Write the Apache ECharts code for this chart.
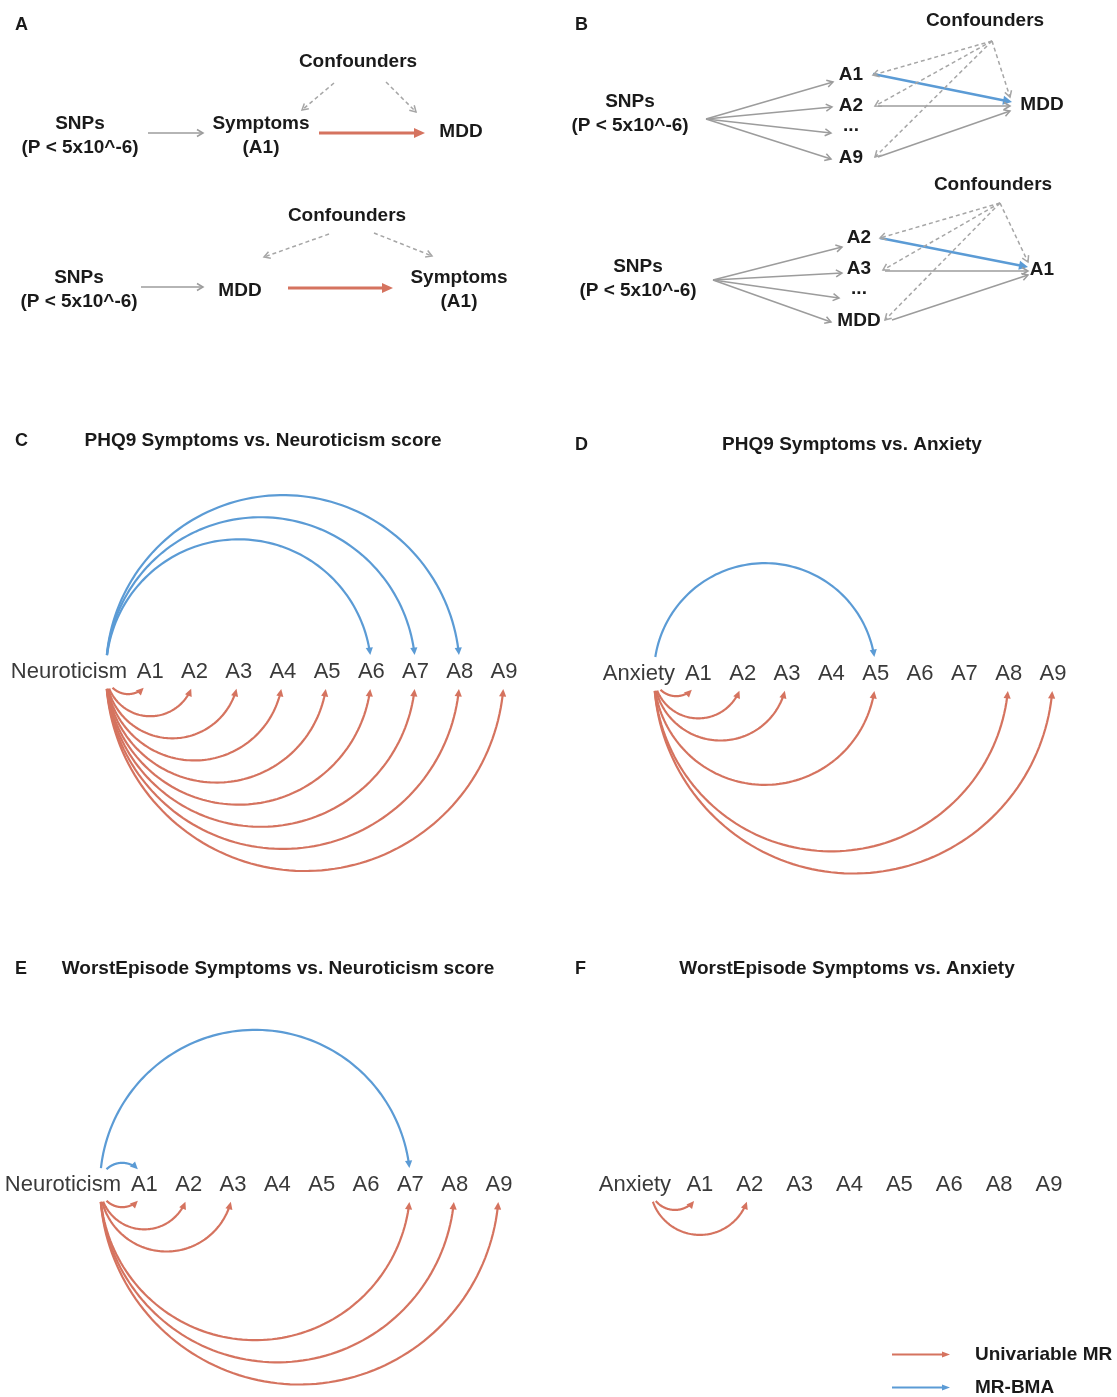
<!DOCTYPE html>
<html><head><meta charset="utf-8">
<script src="https://cdn.jsdelivr.net/npm/echarts@6/dist/echarts.min.js"></script>
<style>html,body{margin:0;padding:0;background:#fff}#chart{width:1117px;height:1397px}</style>
</head><body><div id="chart"></div>
<script>
// ======================= DATA =======================
// Panel C: PHQ9 Symptoms vs. Neuroticism score
const nodesC = ['Neuroticism','A1','A2','A3','A4','A5','A6','A7','A8','A9'];
const univariableC = ['A1','A2','A3','A4','A5','A6','A7','A8','A9'];
const mrbmaC = ['A6','A7','A8'];
// Panel D: PHQ9 Symptoms vs. Anxiety
const nodesD = ['Anxiety','A1','A2','A3','A4','A5','A6','A7','A8','A9'];
const univariableD = ['A1','A2','A3','A5','A8','A9'];
const mrbmaD = ['A5'];
// Panel E: WorstEpisode Symptoms vs. Neuroticism score
const nodesE = ['Neuroticism','A1','A2','A3','A4','A5','A6','A7','A8','A9'];
const univariableE = ['A1','A2','A3','A7','A8','A9'];
const mrbmaE = ['A1','A7'];
// Panel F: WorstEpisode Symptoms vs. Anxiety
const nodesF = ['Anxiety','A1','A2','A3','A4','A5','A6','A8','A9'];
const univariableF = ['A1','A2'];
const mrbmaF = [];

const panelLetters = ['A','B','C','D','E','F'];
const panelTitles = ['PHQ9 Symptoms vs. Neuroticism score','PHQ9 Symptoms vs. Anxiety',
  'WorstEpisode Symptoms vs. Neuroticism score','WorstEpisode Symptoms vs. Anxiety'];
const legendNames = ['Univariable MR','MR-BMA'];

// DAG panels (A, B): node labels and directed relations [from, to, kind]
const dagA1Nodes = ['SNPs\n(P < 5x10^-6)','Symptoms\n(A1)','MDD','Confounders'];
const dagA1Edges = [[0,1,'instrument'],[1,2,'univariable'],[3,1,'confounding'],[3,2,'confounding']];
const dagA2Nodes = ['SNPs\n(P < 5x10^-6)','MDD','Symptoms\n(A1)','Confounders'];
const dagA2Edges = [[0,1,'instrument'],[1,2,'univariable'],[3,1,'confounding'],[3,2,'confounding']];
const dagB1Nodes = ['SNPs\n(P < 5x10^-6)','A1','A2','...','A9','MDD','Confounders'];
const dagB1Edges = [[0,1,'instrument'],[0,2,'instrument'],[0,3,'instrument'],[0,4,'instrument'],
  [1,5,'mrbma'],[2,5,'instrument'],[4,5,'instrument'],
  [6,1,'confounding'],[6,2,'confounding'],[6,4,'confounding'],[6,5,'confounding']];
const dagB2Nodes = ['SNPs\n(P < 5x10^-6)','A2','A3','...','MDD','A1','Confounders'];
const dagB2Edges = [[0,1,'instrument'],[0,2,'instrument'],[0,3,'instrument'],[0,4,'instrument'],
  [1,5,'mrbma'],[2,5,'instrument'],[4,5,'instrument'],
  [6,1,'confounding'],[6,2,'confounding'],[6,4,'confounding'],[6,5,'confounding']];

// ======================= LAYOUT / STYLE =======================
const FONT = "'Liberation Sans', Arial, Helvetica, sans-serif";
const RED = '#D5735F', BLUE = '#5B9BD5', GREY = '#9C9C9C', DGREY = '#A6A6A6';
const TEXT = '#1A1A1A', LABEL = '#3A3A3A';

// DAG layout in diagram-grid units (node anchor positions, edge end points)
const dagLayout = {
  A1: { nodes: [[80,136],[261,136],[461,132],[358,62]],
        edges: [[148,133,203,133],[319,133,425,133],[334,83,302,110],[386,82,416,112]] },
  A2: { nodes: [[79,290],[240,291],[459,290],[347,216]],
        edges: [[141,287,203,287],[288,288,393,288],[329,234,264,257],[374,233,432,256]] },
  B1: { nodes: [[630,114],[851,75],[851,106],[851,126],[851,158],[1042,105],[985,21]],
        edges: [[706,119,833,82],[706,119,832,107],[706,119,831,133],[706,119,831,159],
                [873,74,1012,102],[878,106,1010,106],[878,157,1010,111],
                [992,41,873,75],[992,41,875,106],[992,41,875,157],[992,41,1010,97]] },
  B2: { nodes: [[638,279],[859,238],[859,269],[859,289],[859,321],[1042,270],[993,185]],
        edges: [[713,280,842,247],[713,280,842,273],[713,280,839,298],[713,280,831,322],
                [880,238,1028,267],[885,271,1028,271],[892,320,1028,275],
                [1000,203,880,238],[1000,203,883,270],[1000,203,885,320],[1000,203,1028,262]] }
};
const dags = [
  {nodes: dagA1Nodes, edges: dagA1Edges, lay: dagLayout.A1},
  {nodes: dagA2Nodes, edges: dagA2Edges, lay: dagLayout.A2},
  {nodes: dagB1Nodes, edges: dagB1Edges, lay: dagLayout.B1},
  {nodes: dagB2Nodes, edges: dagB2Edges, lay: dagLayout.B2}
];
const edgeStyle = {
  instrument:  {stroke: GREY,  width: 1.5, dash: null,  head: 'open',   L: 6,  W: 3.5},
  confounding: {stroke: DGREY, width: 1.5, dash: [4,3], head: 'open',   L: 6,  W: 3.5},
  univariable: {stroke: RED,   width: 3,   dash: null,  head: 'filled', L: 11, W: 5},
  mrbma:       {stroke: BLUE,  width: 2.5, dash: null,  head: 'filled', L: 9,  W: 4.5}
};

const arcPanels = [
  {nodes: nodesC, uni: univariableC, bma: mrbmaC, left: 106, width: 398, yc: 672},
  {nodes: nodesD, uni: univariableD, bma: mrbmaD, left: 654, width: 399, yc: 674},
  {nodes: nodesE, uni: univariableE, bma: mrbmaE, left: 100, width: 399, yc: 1185},
  {nodes: nodesF, uni: univariableF, bma: mrbmaF, left: 650, width: 399, yc: 1185}
];

// ======================= RENDERERS =======================
function makeArcRenderer(dir, color) {
  return function (params, api) {
    const s = api.coord([0, 0]);
    const t = api.coord([api.value(0), 0]);
    const R = (t[0] - s[0]) / 2;
    if (!(R > 0)) return;
    const cx = (s[0] + t[0]) / 2, cy = s[1];
    const cap = 17, L = 7.5, W = 3.6;
    const ps = 2 * Math.asin(Math.min(1, cap / (2 * R)));
    const pe = Math.PI - ps;
    const pl = pe - Math.min(L * 0.75 / R, (pe - ps) * 0.4);
    const pts = [];
    const N = 90;
    for (let k = 0; k <= N; k++) {
      const ph = ps + (pl - ps) * k / N;
      pts.push([cx - R * Math.cos(ph), cy + dir * R * Math.sin(ph)]);
    }
    const tip = [cx - R * Math.cos(pe), cy + dir * R * Math.sin(pe)];
    let tx = Math.sin(pe), ty = dir * Math.cos(pe);
    const n = Math.hypot(tx, ty); tx /= n; ty /= n;
    const bx = tip[0] - tx * L, by = tip[1] - ty * L;
    const head = [tip, [bx - ty * W, by + tx * W], [bx + ty * W, by - tx * W]];
    return {type: 'group', children: [
      {type: 'polyline', shape: {points: pts}, style: {stroke: color, lineWidth: 2.2, fill: null}},
      {type: 'polygon', shape: {points: head}, style: {fill: color, stroke: null}}
    ]};
  };
}
function makeLabelRenderer(nodes) {
  return function (params, api) {
    const p = api.coord([api.value(0), 0]);
    const isSrc = params.dataIndex === 0;
    return {type: 'text', x: isSrc ? p[0] + 21 : p[0], y: p[1],
      style: {text: nodes[params.dataIndex], font: '22px ' + FONT, fill: LABEL,
              align: isSrc ? 'right' : 'center', verticalAlign: 'middle'}};
  };
}

// flatten DAG edges and labels
const dagEdgeList = [], dagLabelList = [];
dags.forEach(d => {
  d.edges.forEach((e, i) => dagEdgeList.push({kind: e[2], seg: d.lay.edges[i]}));
  d.nodes.forEach((nm, i) => dagLabelList.push({text: nm, pos: d.lay.nodes[i]}));
});
function renderDagEdge(params, api) {
  const e = dagEdgeList[params.dataIndex];
  const st = edgeStyle[e.kind];
  const p1 = api.coord([e.seg[0], e.seg[1]]);
  const p2 = api.coord([e.seg[2], e.seg[3]]);
  let dx = p2[0] - p1[0], dy = p2[1] - p1[1];
  const len = Math.hypot(dx, dy); dx /= len; dy /= len;
  const bx = p2[0] - dx * st.L, by = p2[1] - dy * st.L;
  const wing1 = [bx - dy * st.W, by + dx * st.W], wing2 = [bx + dy * st.W, by - dx * st.W];
  const lineEnd = st.head === 'filled' ? [p2[0] - dx * st.L * 0.6, p2[1] - dy * st.L * 0.6] : p2;
  const children = [{type: 'line', shape: {x1: p1[0], y1: p1[1], x2: lineEnd[0], y2: lineEnd[1]},
    style: {stroke: st.stroke, lineWidth: st.width, lineDash: st.dash}}];
  if (st.head === 'filled') {
    children.push({type: 'polygon', shape: {points: [p2, wing1, wing2]}, style: {fill: st.stroke}});
  } else {
    children.push({type: 'polyline', shape: {points: [wing1, p2, wing2]},
      style: {stroke: st.stroke, lineWidth: st.width, fill: null}});
  }
  return {type: 'group', children};
}
function renderDagLabel(params, api) {
  const l = dagLabelList[params.dataIndex];
  const p = api.coord(l.pos);
  return {type: 'text', x: p[0], y: p[1],
    style: {text: l.text, font: 'bold 19px ' + FONT, fill: TEXT, align: 'center',
            verticalAlign: 'middle', lineHeight: 24}};
}

// ======================= OPTION =======================
const grids = [{left: 0, top: 0, width: 1117, height: 360}];
const xAxes = [{type: 'value', min: 0, max: 1117, show: false, gridIndex: 0}];
const yAxes = [{type: 'value', min: 0, max: 360, inverse: true, show: false, gridIndex: 0}];
const series = [
  {type: 'custom', name: 'dag-edges', xAxisIndex: 0, yAxisIndex: 0, renderItem: renderDagEdge,
   data: dagEdgeList.map((e, i) => [i]), silent: true},
  {type: 'custom', name: 'dag-nodes', xAxisIndex: 0, yAxisIndex: 0, renderItem: renderDagLabel,
   data: dagLabelList.map((e, i) => [i]), silent: true}
];
arcPanels.forEach((p, k) => {
  const gi = k + 1;
  grids.push({left: p.left, top: p.yc - 100, width: p.width, height: 200});
  xAxes.push({type: 'category', data: p.nodes, boundaryGap: false, show: false, gridIndex: gi});
  yAxes.push({type: 'value', min: -1, max: 1, show: false, gridIndex: gi});
  series.push({type: 'custom', name: legendNames[0], xAxisIndex: gi, yAxisIndex: gi,
    itemStyle: {color: RED}, renderItem: makeArcRenderer(1, RED), data: p.uni.map(n => [n, 0])});
  series.push({type: 'custom', name: legendNames[1], xAxisIndex: gi, yAxisIndex: gi,
    itemStyle: {color: BLUE}, renderItem: makeArcRenderer(-1, BLUE), data: p.bma.map(n => [n, 0])});
  series.push({type: 'custom', name: 'nodes' + k, xAxisIndex: gi, yAxisIndex: gi, silent: true,
    renderItem: makeLabelRenderer(p.nodes), data: p.nodes.map(n => [n, 0])});
});

const letterPos = [[15,25],[575,25],[15,441],[575,445],[15,969],[575,969]];
const titlePos = [[263,441],[852,445],[278,969],[847,969]];
const graphic = [];
panelLetters.forEach((t, i) => graphic.push({type: 'text', x: letterPos[i][0], y: letterPos[i][1],
  style: {text: t, font: 'bold 18px ' + FONT, fill: TEXT, align: 'left', verticalAlign: 'middle',
          textAlign: 'left', textVerticalAlign: 'middle'}}));
panelTitles.forEach((t, i) => graphic.push({type: 'text', x: titlePos[i][0], y: titlePos[i][1],
  style: {text: t, font: 'bold 19px ' + FONT, fill: TEXT, align: 'center', verticalAlign: 'middle',
          textAlign: 'center', textVerticalAlign: 'middle'}}));

const arrowIcon = 'path://M0,2 L51,2 L51,4 L0,4 Z M50,0 L58,3 L50,6 Z';
const option = {
  animation: false,
  backgroundColor: '#ffffff',
  grid: grids, xAxis: xAxes, yAxis: yAxes, series: series, graphic: graphic,
  legend: {
    orient: 'vertical', left: 892, top: 1345, itemWidth: 58, itemHeight: 6, itemGap: 14,
    selectedMode: false, padding: 0,
    data: legendNames.map(n => ({name: n, icon: arrowIcon})),
    textStyle: {fontFamily: FONT, fontSize: 19, fontWeight: 'bold', color: TEXT, padding: [0, 0, 0, 20]}
  }
};
const chart = echarts.init(document.getElementById('chart'), null, {renderer: 'canvas'});
chart.setOption(option);
</script></body></html>
